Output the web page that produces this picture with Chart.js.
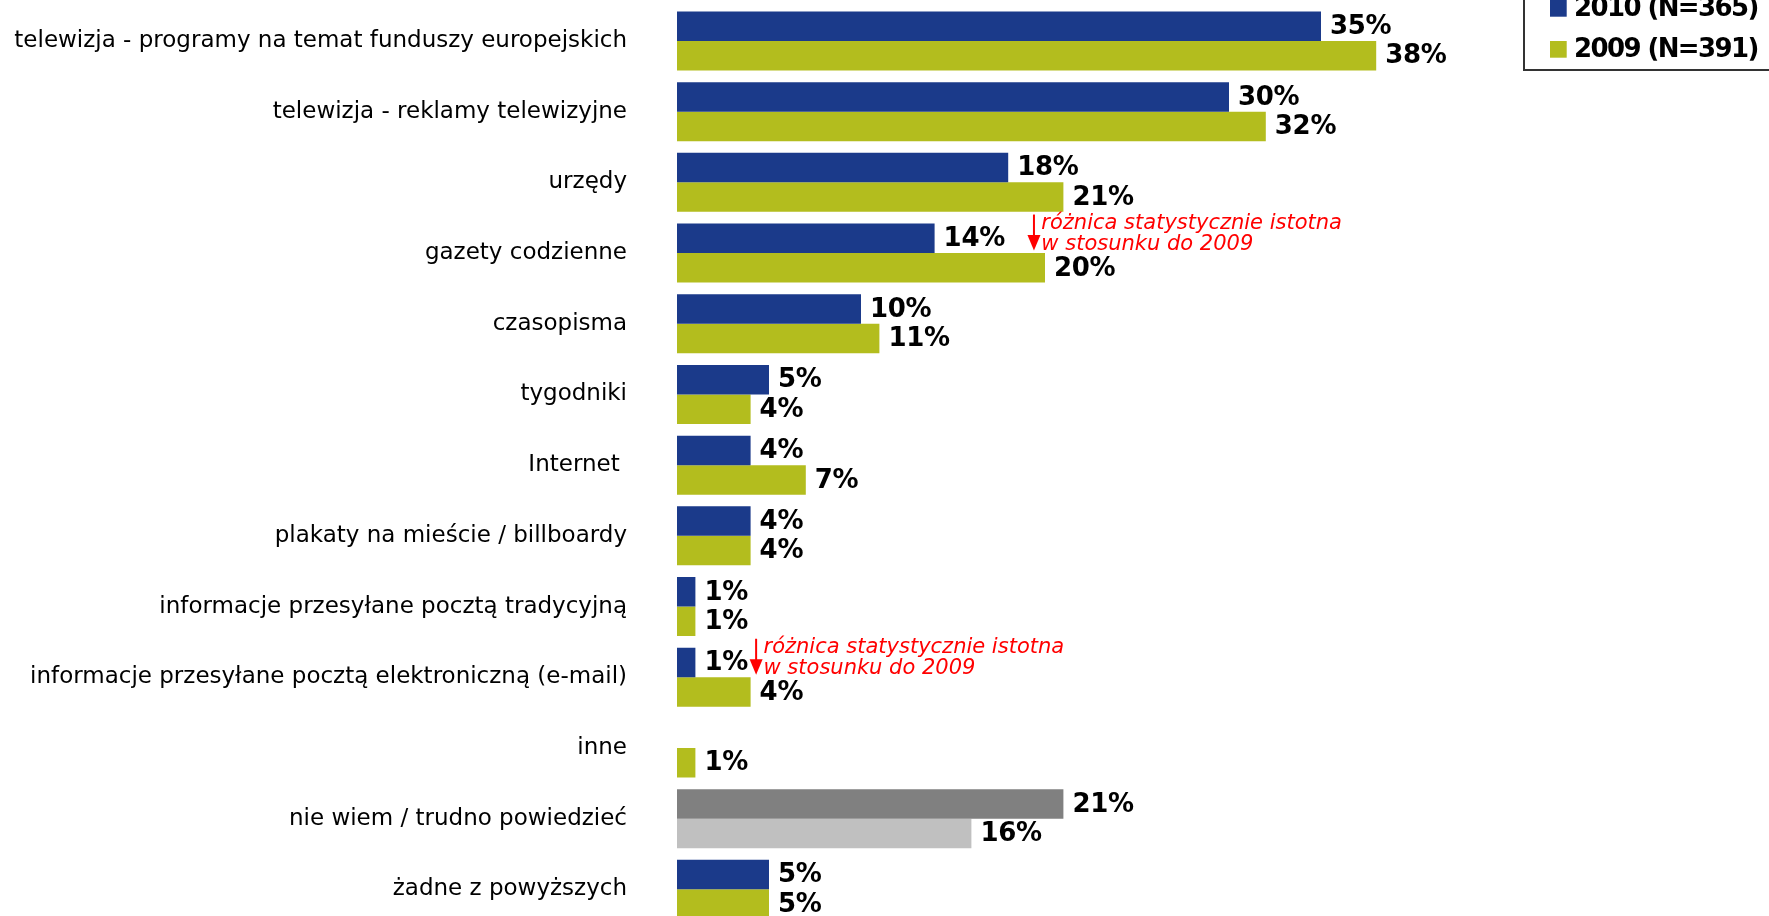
<!DOCTYPE html>
<html>
<head>
<meta charset="utf-8">
<script src="https://cdn.jsdelivr.net/npm/chart.js@4.4.1/dist/chart.umd.min.js"></script>
<style>
  html, body { margin: 0; padding: 0; background: #ffffff; overflow: hidden; width: 1769px; height: 916px; }
  #wrap { position: absolute; left: 0; top: 0; width: 1769px; height: 930px; }
</style>
</head>
<body>
<div id="wrap"><canvas id="c" width="1769" height="930"></canvas></div>
<script>
// Sources of information about EU funds, 2010 vs 2009 (percent of respondents)
const categories = [
  'telewizja - programy na temat funduszy europejskich',
  'telewizja - reklamy telewizyjne',
  'urzędy',
  'gazety codzienne',
  'czasopisma',
  'tygodniki',
  'Internet ',
  'plakaty na mieście / billboardy',
  'informacje przesyłane pocztą tradycyjną',
  'informacje przesyłane pocztą elektroniczną (e-mail)',
  'inne',
  'nie wiem / trudno powiedzieć',
  'żadne z powyższych'
];
const values2010 = [35, 30, 18, 14, 10, 5, 4, 4, 1, 1, null, 21, 5];
const values2009 = [38, 32, 21, 20, 11, 4, 7, 4, 1, 4, 1, 16, 5];
const seriesLabels = ['2010 (N=365)', '2009 (N=391)'];

// Significance notes: category they point at and the value where the arrow sits
const noteLines = ['różnica statystycznie istotna', 'w stosunku do 2009'];
const noteCategories = ['gazety codzienne', 'informacje przesyłane pocztą elektroniczną (e-mail)'];
const noteValues = [19.4, 4.3];

const NEUTRAL = 'nie wiem / trudno powiedzieć';
const BLUE = '#1B3A8A', GREEN = '#B3BD1E', DARK_GREY = '#808080', LIGHT_GREY = '#C0C0C0';

const colors2010 = categories.map(c => c === NEUTRAL ? DARK_GREY : BLUE);
const colors2009 = categories.map(c => c === NEUTRAL ? LIGHT_GREY : GREEN);

// Percentage labels at the end of every bar
const valueLabels = {
  id: 'valueLabels',
  afterDatasetsDraw(chart) {
    const ctx = chart.ctx;
    ctx.save();
    ctx.font = 'bold 26px "DejaVu Sans"';
    ctx.letterSpacing = '-0.3px';
    ctx.fillStyle = '#000000';
    ctx.textAlign = 'left';
    ctx.textBaseline = 'middle';
    chart.data.datasets.forEach((ds, di) => {
      const meta = chart.getDatasetMeta(di);
      meta.data.forEach((bar, i) => {
        const v = ds.data[i];
        if (v === null || v === undefined) return;
        ctx.fillText(v + '%', bar.x + 9, bar.y + 1);
      });
    });
    ctx.restore();
  }
};

// Red arrow + italic note above the 2009 bar
const significanceNotes = {
  id: 'significanceNotes',
  afterDatasetsDraw(chart) {
    const ctx = chart.ctx;
    const xs = chart.scales.x;
    const meta = chart.getDatasetMeta(1);
    ctx.save();
    noteCategories.forEach((cat, k) => {
      const idx = categories.indexOf(cat);
      const bar = meta.data[idx];
      const barTop = bar.y - bar.height / 2;
      const x = xs.getPixelForValue(noteValues[k]);
      const top = barTop - 38.5;
      ctx.strokeStyle = '#FF0000';
      ctx.fillStyle = '#FF0000';
      ctx.lineWidth = 2;
      ctx.beginPath();
      ctx.moveTo(x, top);
      ctx.lineTo(x, top + 22);
      ctx.stroke();
      ctx.beginPath();
      ctx.moveTo(x - 6.5, top + 20.5);
      ctx.lineTo(x + 6.5, top + 20.5);
      ctx.lineTo(x, top + 36);
      ctx.closePath();
      ctx.fill();
      ctx.font = 'italic 21px "DejaVu Sans"';
      ctx.textAlign = 'left';
      ctx.textBaseline = 'alphabetic';
      ctx.fillText(noteLines[0], x + 7.4, top + 14.6);
      ctx.fillText(noteLines[1], x + 7.4, top + 35);
    });
    ctx.restore();
  }
};

// Boxed legend in the upper right corner
const boxLegend = {
  id: 'boxLegend',
  afterDraw(chart) {
    const ctx = chart.ctx;
    ctx.save();
    ctx.strokeStyle = '#333333';
    ctx.lineWidth = 2;
    ctx.strokeRect(1524, -40, 300, 110);
    ctx.font = 'bold 26px "DejaVu Sans"';
    ctx.letterSpacing = '-1.6px';
    ctx.textAlign = 'left';
    ctx.textBaseline = 'middle';
    const swatch = [BLUE, GREEN];
    chart.data.datasets.forEach((ds, i) => {
      const cy = 8.3 + i * 41;
      ctx.fillStyle = swatch[i];
      ctx.fillRect(1550, cy - 8.3, 16.7, 16.7);
      ctx.fillStyle = '#000000';
      ctx.fillText(ds.label, 1574, cy + 1);
    });
    ctx.restore();
  }
};

new Chart(document.getElementById('c'), {
  type: 'bar',
  data: {
    labels: categories,
    datasets: [
      { label: seriesLabels[0], data: values2010, backgroundColor: colors2010, borderWidth: 0 },
      { label: seriesLabels[1], data: values2009, backgroundColor: colors2009, borderWidth: 0 }
    ]
  },
  options: {
    indexAxis: 'y',
    responsive: false,
    animation: false,
    devicePixelRatio: 1,
    layout: { padding: { top: 5.6, bottom: 5.3, left: 0, right: 172 } },
    datasets: { bar: { categoryPercentage: 0.834, barPercentage: 1.0 } },
    plugins: { legend: { display: false }, tooltip: { enabled: false } },
    scales: {
      x: { display: false, min: 0, max: 50 },
      y: {
        grid: { display: false, drawTicks: false },
        border: { display: false },
        ticks: {
          padding: 50,
          color: '#000000',
          font: { family: 'DejaVu Sans', size: 23 },
          autoSkip: false
        },
        afterFit(scale) {
          scale.width = 677;
          scale.paddingTop = 0;
          scale.paddingBottom = 0;
        }
      }
    }
  },
  plugins: [valueLabels, significanceNotes, boxLegend]
});
</script>
</body>
</html>
